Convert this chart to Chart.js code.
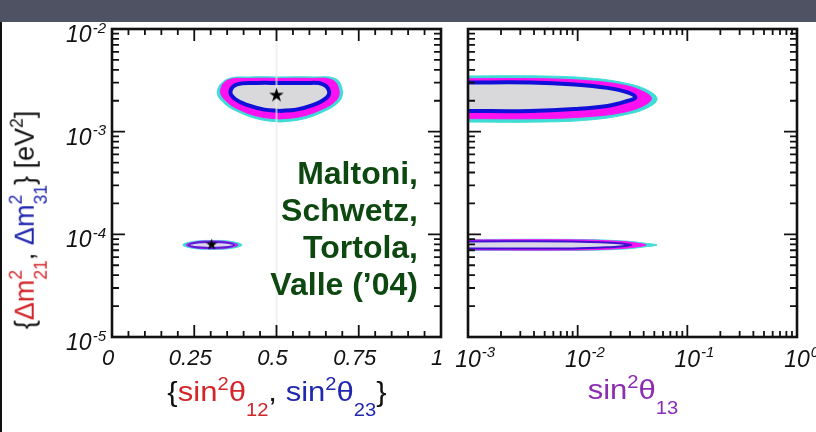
<!DOCTYPE html>
<html>
<head>
<meta charset="utf-8">
<script src="https://cdn.jsdelivr.net/npm/chart.js@4"></script>
<style>
html, body { margin: 0; padding: 0; background: #fff; }
#wrap { position: relative; width: 816px; height: 432px; overflow: hidden; background: #fff; }
#bar { position: absolute; left: 0; top: 0; width: 816px; height: 22px; background: #4f5262; }
#edge { position: absolute; left: 0; top: 22px; width: 2px; height: 410px; background: #111; }
canvas { position: absolute; left: 0; top: 0; }
.t { position: absolute; font-family: "Liberation Sans", Arial, sans-serif; white-space: nowrap; font-size: 27px; line-height: 27px; color: #111; }
.t sup, .t sub { font-size: .65em; line-height: 0; }
.t sup { vertical-align: 11px; }
.t sub { vertical-align: -15px; }
.xt { width: 400px; text-align: center; transform: scaleX(1.15); }
.red { color: #d3262b; }
.blue { color: #2128b0; }
.pur { color: #8c2cb3; }
.st { position: relative; display: inline-block; font-size: .65em; line-height: 1; vertical-align: -13px; }
.st .su { position: absolute; left: 0; top: -25px; }
#yt { left: 31px; top: 220px; transform: translate(-50%, -50%) rotate(-90deg); }
#names { position: absolute; right: 398px; top: 155px; text-align: right; font: bold 32px/37px "Liberation Sans", Arial, sans-serif; color: #0e4811; }
</style>
</head>
<body>
<div id="wrap">
  <div id="bar"></div>
  <div id="edge"></div>
  <canvas id="c1" width="816" height="432"></canvas>
  <canvas id="c2" width="816" height="432"></canvas>
  <div class="t" id="yt">{<span class="red">Δm<span class="st"><span class="su">2</span>21</span></span>, <span class="blue">Δm<span class="st"><span class="su">2</span>31</span></span>} [eV<sup>2</sup>]</div>
  <div class="t xt" style="left:77px;top:379px">{<span class="red">sin<sup>2</sup>θ<sub>12</sub></span>, <span class="blue">sin<sup>2</sup>θ<sub>23</sub></span>}</div>
  <div class="t xt pur" style="left:433px;top:377px">sin<sup>2</sup>θ<sub>13</sub></div>
  <div id="names">Maltoni,<br>Schwetz,<br>Tortola,<br>Valle (’04)</div>
</div>
<script>
// axes
const thetaMajor = [0, 0.25, 0.5, 0.75, 1];
const thetaLabels = ['0', '0.25', '0.5', '0.75', '1'];
const thetaMinor = [0.05, 0.1, 0.15, 0.2, 0.3, 0.35, 0.4, 0.45, 0.55, 0.6, 0.65, 0.7, 0.8, 0.85, 0.9, 0.95];
const massDecades = [1e-5, 1e-4, 1e-3, 1e-2];
const massExp = ['-5', '-4', '-3', '-2'];
const s13Decades = [1e-3, 1e-2, 1e-1, 1];
const s13Exp = ['-3', '-2', '-1', '0'];
const logMantissas = [2, 3, 4, 5, 6, 7, 8, 9];

// best fit points
const atmBest = [[0.5, 2.23e-3]];
const solBest = [[0.303, 7.9e-5]];

// sin^2 theta23 vs dm2_31 : 99%, 95%, 90% contours
const atmCyan = [[0.51,1.24e-3],[0.573,1.31e-3],[0.634,1.52e-3],[0.69,1.96e-3],[0.70,2.52e-3],[0.68,3.27e-3],[0.61,3.41e-3],[0.51,3.41e-3],[0.42,3.41e-3],[0.35,3.24e-3],[0.32,2.47e-3],[0.34,1.90e-3],[0.391,1.52e-3],[0.451,1.31e-3],[0.51,1.24e-3]];
const atmMagenta = [[0.51,1.33e-3],[0.568,1.39e-3],[0.626,1.59e-3],[0.68,2.0e-3],[0.69,2.51e-3],[0.67,3.18e-3],[0.60,3.30e-3],[0.51,3.30e-3],[0.42,3.30e-3],[0.35,3.15e-3],[0.33,2.46e-3],[0.35,1.95e-3],[0.396,1.59e-3],[0.453,1.39e-3],[0.51,1.33e-3]];
const atmInner = [[0.51,1.59e-3],[0.56,1.64e-3],[0.608,1.80e-3],[0.65,2.11e-3],[0.66,2.47e-3],[0.64,2.91e-3],[0.59,2.98e-3],[0.51,2.98e-3],[0.44,2.98e-3],[0.38,2.89e-3],[0.36,2.44e-3],[0.375,2.07e-3],[0.415,1.80e-3],[0.463,1.64e-3],[0.51,1.59e-3]];

// sin^2 theta12 vs dm2_21
const solCyan = [[0.305,7.13e-5],[0.36,7.27e-5],[0.395,7.88e-5],[0.36,8.55e-5],[0.305,8.72e-5],[0.25,8.55e-5],[0.215,7.88e-5],[0.25,7.27e-5],[0.305,7.13e-5]];
const solMagenta = [[0.304,7.21e-5],[0.35,7.34e-5],[0.383,7.88e-5],[0.35,8.47e-5],[0.304,8.62e-5],[0.257,8.47e-5],[0.225,7.88e-5],[0.257,7.34e-5],[0.304,7.21e-5]];
const solInner = [[0.302,7.37e-5],[0.343,7.47e-5],[0.371,7.88e-5],[0.343,8.32e-5],[0.302,8.43e-5],[0.261,8.32e-5],[0.234,7.88e-5],[0.261,7.47e-5],[0.302,7.37e-5]];

// sin^2 theta13 vs dm2_31
const t13AtmCyan = [[7e-4,3.49e-3],[1e-3,3.49e-3],[4.5e-3,3.49e-3],[1.28e-2,3.33e-3],[2.7e-2,2.98e-3],[4.3e-2,2.55e-3],[5.3e-2,2.08e-3],[4.3e-2,1.70e-3],[2.7e-2,1.46e-3],[1.28e-2,1.30e-3],[4.5e-3,1.24e-3],[1e-3,1.24e-3],[7e-4,1.24e-3],[7e-4,3.49e-3]];
const t13AtmMagenta = [[7e-4,3.28e-3],[1e-3,3.28e-3],[4.5e-3,3.28e-3],[1.23e-2,3.14e-3],[2.5e-2,2.87e-3],[3.9e-2,2.48e-3],[4.7e-2,2.10e-3],[3.9e-2,1.77e-3],[2.5e-2,1.53e-3],[1.23e-2,1.40e-3],[4.5e-3,1.34e-3],[1e-3,1.34e-3],[7e-4,1.34e-3],[7e-4,3.28e-3]];
const t13AtmInner = [[7e-4,3.01e-3],[1e-3,3.01e-3],[3.7e-3,3.01e-3],[9.4e-3,2.88e-3],[1.87e-2,2.67e-3],[2.85e-2,2.41e-3],[3.37e-2,2.15e-3],[2.85e-2,1.99e-3],[1.87e-2,1.78e-3],[9.4e-3,1.66e-3],[3.7e-3,1.59e-3],[1e-3,1.59e-3],[7e-4,1.59e-3],[7e-4,3.01e-3]];

// sin^2 theta13 vs dm2_21
const t13SolCyan = [[7e-4,8.92e-5],[1e-3,8.92e-5],[1e-2,8.92e-5],[2.7e-2,8.6e-5],[4.1e-2,8.2e-5],[5.3e-2,7.88e-5],[4.1e-2,7.55e-5],[2.7e-2,7.2e-5],[1e-2,6.97e-5],[1e-3,6.97e-5],[7e-4,6.97e-5],[7e-4,8.92e-5]];
const t13SolMagenta = [[7e-4,8.82e-5],[1e-3,8.82e-5],[1e-2,8.82e-5],[2.6e-2,8.5e-5],[3.6e-2,8.15e-5],[4.2e-2,7.88e-5],[3.6e-2,7.6e-5],[2.6e-2,7.3e-5],[1e-2,7.05e-5],[1e-3,7.05e-5],[7e-4,7.05e-5],[7e-4,8.82e-5]];
const t13SolInner = [[7e-4,8.53e-5],[1e-3,8.53e-5],[9e-3,8.53e-5],[2.0e-2,8.3e-5],[2.7e-2,8.05e-5],[3.1e-2,7.88e-5],[2.7e-2,7.7e-5],[2.0e-2,7.5e-5],[9e-3,7.29e-5],[1e-3,7.29e-5],[7e-4,7.29e-5],[7e-4,8.53e-5]];

const CYAN = '#3fdcd6', MAGENTA = '#ff10f0', BLUE = '#1010d8', GREY = '#d9d9db';
const FONT = '"Liberation Sans", Arial, sans-serif';

const minorOf = decades => decades.slice(0, -1).flatMap(d => logMantissas.map(m => m * d));
const pts = arr => arr.map(([x, y]) => ({x, y}));

function region(data, color, order, border, bw) {
  return {
    data: pts(data), showLine: true, fill: 'shape',
    backgroundColor: color, borderColor: border || color, borderWidth: bw || 1,
    pointRadius: 0, tension: 0.4, order, clip: 0
  };
}

function starIcon(size) {
  const c = document.createElement('canvas');
  c.width = c.height = size;
  const g = c.getContext('2d');
  g.fillStyle = '#000';
  g.font = size + 'px "DejaVu Sans"';
  g.textAlign = 'center';
  g.textBaseline = 'middle';
  g.fillText('★', size / 2, size / 2 + 1);
  return c;
}

function axesFrame(o) {
  return {
    id: 'axesFrame',
    afterDatasetsDraw(chart) {
      const {ctx, chartArea: a, scales} = chart;
      const sx = scales.x, sy = scales.y;
      ctx.save();
      ctx.strokeStyle = '#111';
      ctx.lineWidth = 1.8;
      ctx.beginPath();
      const xt = (vals, len) => vals.forEach(v => {
        const p = sx.getPixelForValue(v);
        ctx.moveTo(p, a.bottom); ctx.lineTo(p, a.bottom - len);
        ctx.moveTo(p, a.top); ctx.lineTo(p, a.top + len);
      });
      const yt = (vals, len) => vals.forEach(v => {
        const p = sy.getPixelForValue(v);
        ctx.moveTo(a.left, p); ctx.lineTo(a.left + len, p);
        ctx.moveTo(a.right, p); ctx.lineTo(a.right - len, p);
      });
      xt(o.xMinor, 6); xt(o.xMajor, 12);
      yt(o.yMinor, 7); yt(o.yMajor, 13);
      ctx.stroke();
      ctx.lineWidth = 2.6;
      ctx.strokeRect(a.left, a.top, a.right - a.left, a.bottom - a.top);

      ctx.fillStyle = '#111';
      ctx.textBaseline = 'alphabetic';
      if (o.xText) {
        ctx.font = 'italic 22px ' + FONT;
        ctx.textAlign = 'center';
        o.xMajor.forEach((v, i) => ctx.fillText(o.xText[i], sx.getPixelForValue(v) - 4, a.bottom + 28));
      }
      if (o.xExp) {
        o.xMajor.forEach((v, i) => {
          const p = sx.getPixelForValue(v);
          ctx.font = 'italic 23px ' + FONT;
          ctx.textAlign = 'center';
          const w = ctx.measureText('10').width;
          ctx.fillText('10', p, a.bottom + 30);
          ctx.font = 'italic 15px ' + FONT;
          ctx.textAlign = 'left';
          ctx.fillText(o.xExp[i], p + w / 2 + 1, a.bottom + 20);
        });
      }
      if (o.yExp) {
        o.yMajor.forEach((v, i) => {
          const p = sy.getPixelForValue(v);
          const r = a.left - 6;
          ctx.font = 'italic 15px ' + FONT;
          ctx.textAlign = 'right';
          const ew = ctx.measureText(o.yExp[i]).width;
          ctx.fillText(o.yExp[i], r, p + 3.5);
          ctx.font = 'italic 23px ' + FONT;
          ctx.fillText('10', r - ew - 1, p + 13);
        });
      }
      ctx.restore();
    }
  };
}

function makeChart(id, padding, xScale, datasets, frame) {
  return new Chart(document.getElementById(id), {
    type: 'scatter',
    data: {datasets},
    options: {
      responsive: false,
      animation: false,
      events: [],
      layout: {padding},
      plugins: {legend: {display: false}, tooltip: {enabled: false}},
      scales: {
        x: Object.assign({display: false}, xScale),
        y: {type: 'logarithmic', min: 1e-5, max: 1e-2, display: false}
      }
    },
    plugins: [axesFrame(frame)]
  });
}

makeChart('c1', {left: 112, right: 375, top: 29, bottom: 95},
  {type: 'linear', min: 0, max: 1},
  [
    {data: pts(atmBest), pointStyle: starIcon(19), pointRadius: 9, order: 0},
    {data: pts(solBest), pointStyle: starIcon(15), pointRadius: 7, order: 0},
    {data: pts([[0.5, 1e-5], [0.5, 1e-2]]), showLine: true, borderColor: 'rgba(236,236,236,0.7)', borderWidth: 2, pointRadius: 0, order: 1},
    region(atmInner, GREY, 2, BLUE, 4),
    region(atmMagenta, MAGENTA, 3),
    region(atmCyan, CYAN, 4),
    region(solInner, '#ddd6ea', 2, '#5a1ad8', 2),
    region(solMagenta, '#b02ff0', 3),
    region(solCyan, CYAN, 4)
  ],
  {xMajor: thetaMajor, xMinor: thetaMinor, xText: thetaLabels,
   yMajor: massDecades, yMinor: minorOf(massDecades), yExp: massExp});

makeChart('c2', {left: 468, right: 19, top: 29, bottom: 95},
  {type: 'logarithmic', min: 1e-3, max: 1},
  [
    region(t13AtmInner, GREY, 2, BLUE, 4),
    region(t13AtmMagenta, MAGENTA, 3),
    region(t13AtmCyan, CYAN, 4),
    region(t13SolInner, '#dcd8e6', 2, '#3a14d0', 2),
    region(t13SolMagenta, MAGENTA, 3),
    region(t13SolCyan, CYAN, 4)
  ],
  {xMajor: s13Decades, xMinor: minorOf(s13Decades), xExp: s13Exp,
   yMajor: massDecades, yMinor: minorOf(massDecades)});
</script>
</body>
</html>
